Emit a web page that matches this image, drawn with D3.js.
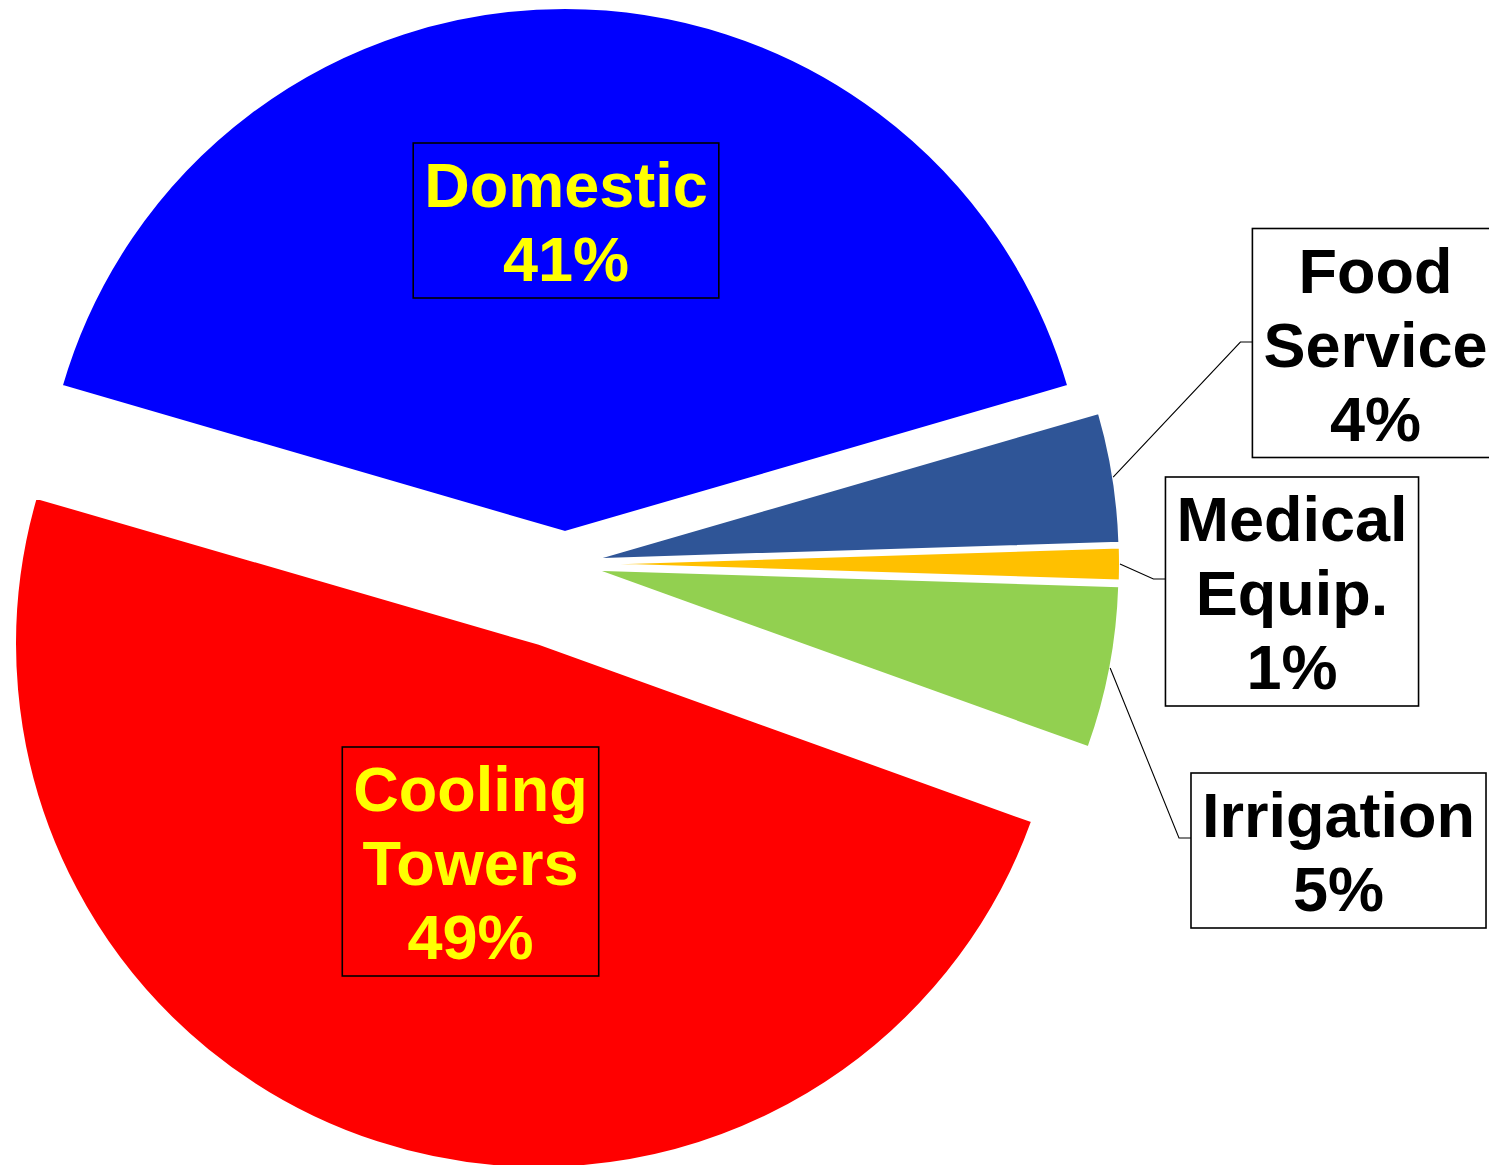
<!DOCTYPE html>
<html>
<head>
<meta charset="utf-8">
<script src="https://cdn.jsdelivr.net/npm/d3@7"></script>
<style>
  html, body { margin: 0; padding: 0; background: #fff; overflow: hidden; }
  svg { display: block; }
</style>
</head>
<body>
<svg id="chart" width="1489" height="1165"></svg>
<script>
// ---- data ----
const categories = ["Domestic", "Food Service", "Medical Equip.", "Irrigation", "Cooling Towers"];
const values = [41, 4, 1, 5, 49];
const labelLines = [["Domestic"], ["Food", "Service"], ["Medical", "Equip."], ["Irrigation"], ["Cooling", "Towers"]];
const colors = ["#0000FF", "#2F5597", "#FFC000", "#92D050", "#FF0000"];
const textColors = ["#FFFF00", "#000000", "#000000", "#000000", "#FFFF00"];
const explode = [32, 31, 31, 31, 84];

// ---- layout ----
const W = 1489, H = 1165;
const cx = 565, cy = 564, R = 524;
const labelCenters = [[566, 220.5], [1375.5, 343], [1292, 591.5], [1338.5, 850.5], [470.5, 861.5]];
const leaderY = [null, 342, 579, 838, null];
const fontSize = 63, lineH = 74;

const svg = d3.select("#chart");
svg.append("rect").attr("width", W).attr("height", H).attr("fill", "#fff");

const start = -values[0] / 100 * Math.PI;
const pie = d3.pie().sort(null).value(d => d).startAngle(start).endAngle(start + 2 * Math.PI);
const arc = d3.arc().innerRadius(0).outerRadius(R);
const arcs = pie(values);

const offsets = arcs.map((a, i) => {
  const mid = (a.startAngle + a.endAngle) / 2;
  return { mid, dx: Math.sin(mid) * explode[i], dy: -Math.cos(mid) * explode[i] };
});

svg.append("g").selectAll("path")
  .data(arcs)
  .join("path")
  .attr("transform", (d, i) => `translate(${cx + offsets[i].dx},${cy + offsets[i].dy})`)
  .attr("d", arc)
  .attr("fill", (d, i) => colors[i])
  .attr("stroke", "#fff")
  .attr("stroke-width", 2)
  .attr("stroke-linejoin", "round");

// ---- labels ----
const lblG = svg.append("g");
arcs.forEach((a, i) => {
  const lines = labelLines[i].concat([values[i] + "%"]);
  const g = lblG.append("g");
  const rect = g.append("rect");
  const txt = g.append("text")
    .attr("font-family", "'Liberation Sans', Arial, sans-serif")
    .attr("font-weight", "bold")
    .attr("font-size", fontSize)
    .attr("fill", textColors[i])
    .attr("text-anchor", "middle");
  const [lx, ly] = labelCenters[i];
  const boxH = lines.length * lineH + 7;
  const top = ly - boxH / 2;
  lines.forEach((t, k) => {
    txt.append("tspan").attr("x", lx).attr("y", top + 64 + k * lineH).text(t);
  });
  let maxW = 0;
  txt.selectAll("tspan").each(function () { maxW = Math.max(maxW, this.getComputedTextLength()); });
  const boxW = maxW + 22;
  const left = lx - boxW / 2;
  rect.attr("x", left).attr("y", top).attr("width", boxW).attr("height", boxH)
    .attr("fill", "none").attr("stroke", "#000").attr("stroke-width", 1.6);

  if (leaderY[i] !== null) {
    const o = offsets[i];
    const sx = cx + o.dx + Math.sin(o.mid) * R;
    const sy = cy + o.dy - Math.cos(o.mid) * R;
    const pts = [[sx, sy], [left - 12, leaderY[i]], [left, leaderY[i]]];
    lblG.append("path")
      .attr("d", d3.line()(pts))
      .attr("fill", "none")
      .attr("stroke", "#000")
      .attr("stroke-width", 1.1);
  }
});
</script>
</body>
</html>
